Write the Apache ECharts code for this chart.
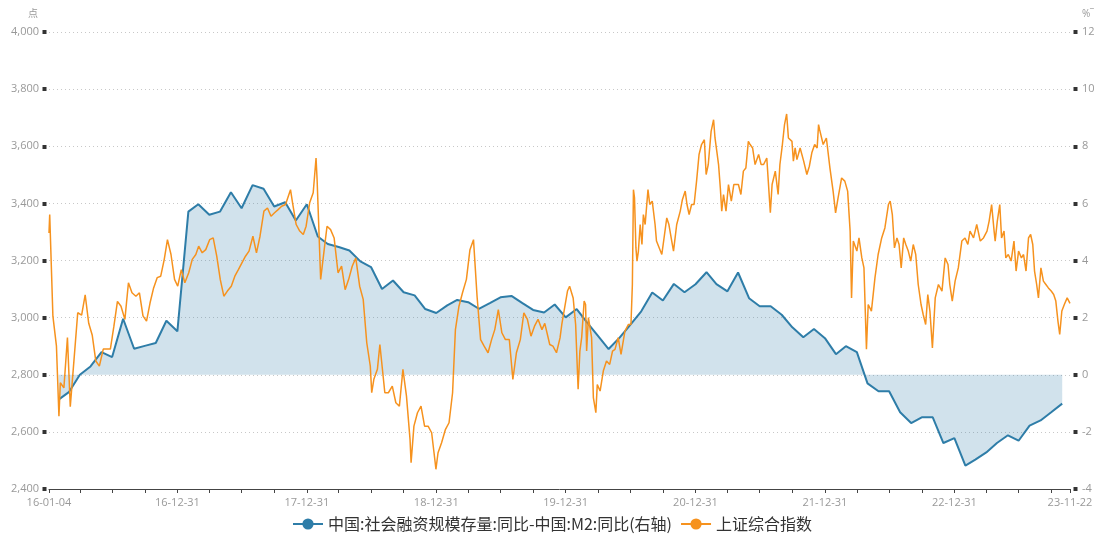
<!DOCTYPE html>
<html>
<head>
<meta charset="utf-8">
<title>社融-M2 与上证综指</title>
<script src="https://cdn.jsdelivr.net/npm/echarts@6/dist/echarts.min.js"></script>
<style>
  html, body { margin: 0; padding: 0; background: #fff; }
  #chart { width: 1112px; height: 535px; }
</style>
</head>
<body>
<div id="chart"></div>
<script>
// 中国:社会融资规模存量:同比 - 中国:M2:同比 (月末, %)
const spreadDates = [
  '2016-01-31','2016-02-29','2016-03-31','2016-04-30','2016-05-31','2016-06-30','2016-07-31','2016-08-31','2016-09-30','2016-10-31','2016-11-30','2016-12-31',
  '2017-01-31','2017-02-28','2017-03-31','2017-04-30','2017-05-31','2017-06-30','2017-07-31','2017-08-31','2017-09-30','2017-10-31','2017-11-30','2017-12-31',
  '2018-01-31','2018-02-28','2018-03-31','2018-04-30','2018-05-31','2018-06-30','2018-07-31','2018-08-31','2018-09-30','2018-10-31','2018-11-30','2018-12-31',
  '2019-01-31','2019-02-28','2019-03-31','2019-04-30','2019-05-31','2019-06-30','2019-07-31','2019-08-31','2019-09-30','2019-10-31','2019-11-30','2019-12-31',
  '2020-01-31','2020-02-29','2020-03-31','2020-04-30','2020-05-31','2020-06-30','2020-07-31','2020-08-31','2020-09-30','2020-10-31','2020-11-30','2020-12-31',
  '2021-01-31','2021-02-28','2021-03-31','2021-04-30','2021-05-31','2021-06-30','2021-07-31','2021-08-31','2021-09-30','2021-10-31','2021-11-30','2021-12-31',
  '2022-01-31','2022-02-28','2022-03-31','2022-04-30','2022-05-31','2022-06-30','2022-07-31','2022-08-31','2022-09-30','2022-10-31','2022-11-30','2022-12-31',
  '2023-01-31','2023-02-28','2023-03-31','2023-04-30','2023-05-31','2023-06-30','2023-07-31','2023-08-31','2023-09-30','2023-10-31'
];
const spreadValues = [
  -0.87, -0.61, 0.00, 0.29, 0.79, 0.62, 1.96, 0.91, 1.01, 1.11, 1.89, 1.52,
  5.71, 5.97, 5.60, 5.71, 6.39, 5.83, 6.64, 6.51, 5.89, 6.04, 5.40, 5.97,
  4.84, 4.58, 4.47, 4.35, 3.97, 3.77, 3.00, 3.30, 2.89, 2.78, 2.30, 2.16,
  2.43, 2.62, 2.54, 2.31, 2.51, 2.71, 2.76, 2.51, 2.27, 2.18, 2.46, 2.01,
  2.30, 1.83, 1.36, 0.90, 1.30, 1.75, 2.22, 2.88, 2.60, 3.18, 2.89, 3.17,
  3.59, 3.17, 2.92, 3.58, 2.68, 2.40, 2.40, 2.10, 1.66, 1.31, 1.60, 1.28,
  0.72, 1.00, 0.79, -0.30, -0.58, -0.58, -1.31, -1.69, -1.49, -1.49, -2.39, -2.22,
  -3.18, -2.97, -2.72, -2.39, -2.12, -2.31, -1.78, -1.60, -1.31, -1.01
];

// 上证综合指数 (点)
const shDates = [
  '2016-01-04','2016-01-06','2016-01-15','2016-01-25','2016-02-01','2016-02-05','2016-02-15','2016-02-25','2016-03-04','2016-03-15','2016-03-25',
  '2016-04-05','2016-04-15','2016-04-25','2016-05-05','2016-05-15','2016-05-25','2016-06-05','2016-06-15','2016-06-25',
  '2016-07-05','2016-07-15','2016-07-25','2016-08-05','2016-08-15','2016-08-25','2016-09-05','2016-09-15','2016-09-25',
  '2016-10-05','2016-10-15','2016-10-25','2016-11-04','2016-11-14','2016-11-24','2016-12-03','2016-12-13','2016-12-23',
  '2017-01-01','2017-01-11','2017-01-21','2017-02-01','2017-02-11','2017-02-21','2017-03-01','2017-03-11','2017-03-21',
  '2017-04-01','2017-04-11','2017-04-21','2017-05-01','2017-05-11','2017-05-21','2017-06-01','2017-06-11','2017-06-21',
  '2017-07-01','2017-07-11','2017-07-21','2017-08-01','2017-08-11','2017-08-21','2017-09-01','2017-09-11','2017-09-21',
  '2017-10-01','2017-10-11','2017-10-21','2017-11-01','2017-11-15','2017-11-21','2017-12-01','2017-12-11','2017-12-21',
  '2017-12-29','2018-01-08','2018-01-18','2018-01-26','2018-01-29','2018-02-08','2018-02-18','2018-02-26','2018-03-08','2018-03-18','2018-03-29',
  '2018-04-08','2018-04-18','2018-04-28','2018-05-08','2018-05-18','2018-05-29','2018-06-08','2018-06-18','2018-06-28',
  '2018-07-02','2018-07-08','2018-07-18','2018-07-25','2018-08-08','2018-08-18','2018-08-29','2018-09-08','2018-09-18','2018-09-28',
  '2018-10-08','2018-10-18','2018-10-21','2018-10-29','2018-11-08','2018-11-18','2018-11-28','2018-12-08','2018-12-18','2018-12-28','2018-12-30',
  '2019-01-05','2019-01-15','2019-01-26','2019-02-05','2019-02-15','2019-02-23','2019-03-05','2019-03-15','2019-03-26',
  '2019-04-05','2019-04-15','2019-04-25','2019-05-05','2019-05-15','2019-05-26','2019-06-05','2019-06-14','2019-06-24',
  '2019-07-04','2019-07-14','2019-07-25','2019-08-04','2019-08-14','2019-08-25','2019-09-04','2019-09-14','2019-09-24',
  '2019-10-04','2019-10-14','2019-10-25','2019-11-02','2019-11-16','2019-11-25','2019-12-05','2019-12-15','2019-12-20',
  '2020-01-05','2020-01-11','2020-01-21','2020-01-28','2020-02-04','2020-02-09','2020-02-14','2020-02-21','2020-02-25','2020-02-28',
  '2020-03-04','2020-03-13','2020-03-18','2020-03-25','2020-03-29','2020-04-06','2020-04-15','2020-04-24','2020-05-03','2020-05-11',
  '2020-05-18','2020-05-27','2020-06-04','2020-06-15','2020-06-25','2020-07-02','2020-07-06','2020-07-09','2020-07-12','2020-07-16',
  '2020-07-19','2020-07-23','2020-07-28','2020-08-02','2020-08-06','2020-08-11','2020-08-19','2020-08-24','2020-08-31','2020-09-08',
  '2020-09-12','2020-09-27','2020-10-01','2020-10-11','2020-10-17','2020-10-25','2020-10-30','2020-11-08','2020-11-18','2020-11-24',
  '2020-12-02','2020-12-07','2020-12-13','2020-12-20','2020-12-27',
  '2021-01-03','2021-01-10','2021-01-17','2021-01-25','2021-01-30','2021-02-05','2021-02-13','2021-02-20','2021-02-24','2021-03-01',
  '2021-03-06','2021-03-11','2021-03-15','2021-03-20','2021-03-27','2021-04-03','2021-04-11','2021-04-18','2021-04-23','2021-05-01',
  '2021-05-08','2021-05-15','2021-05-22','2021-05-29','2021-06-03','2021-06-10','2021-06-17','2021-06-27','2021-07-04','2021-07-11',
  '2021-07-20','2021-07-30','2021-08-04','2021-08-13','2021-08-21','2021-08-26','2021-09-02','2021-09-08','2021-09-14','2021-09-19',
  '2021-09-29','2021-10-03','2021-10-08','2021-10-13','2021-10-22','2021-11-01','2021-11-10','2021-11-17','2021-11-24','2021-12-02',
  '2021-12-09','2021-12-13','2021-12-16','2021-12-26',
  '2022-01-04','2022-01-14','2022-01-23','2022-01-30','2022-02-06','2022-02-16','2022-02-25','2022-03-05','2022-03-12','2022-03-16',
  '2022-03-21','2022-03-31','2022-04-06','2022-04-14','2022-04-20','2022-04-27','2022-05-02','2022-05-11','2022-05-21','2022-05-30',
  '2022-06-09','2022-06-18','2022-06-28','2022-07-03','2022-07-09','2022-07-15','2022-07-22','2022-07-28','2022-08-03','2022-08-10',
  '2022-08-16','2022-08-23','2022-08-30','2022-09-06','2022-09-13','2022-09-20','2022-09-28','2022-10-04','2022-10-11','2022-10-17',
  '2022-10-23','2022-10-30','2022-11-07','2022-11-16','2022-11-26','2022-12-05','2022-12-13','2022-12-18','2022-12-25',
  '2023-01-02','2023-01-11','2023-01-21','2023-01-30','2023-02-07','2023-02-13','2023-02-23','2023-03-04','2023-03-14','2023-03-23',
  '2023-04-02','2023-04-08','2023-04-15','2023-04-22','2023-04-25','2023-05-01','2023-05-08','2023-05-13','2023-05-20','2023-05-25',
  '2023-06-01','2023-06-09','2023-06-17','2023-06-23','2023-06-30','2023-07-08','2023-07-14','2023-07-21','2023-07-28','2023-08-03',
  '2023-08-09','2023-08-14','2023-08-20','2023-08-25','2023-09-01','2023-09-08','2023-09-15','2023-09-22','2023-09-30','2023-10-07',
  '2023-10-13','2023-10-19','2023-10-24','2023-10-30','2023-11-06','2023-11-14','2023-11-22'
];
const shValues = [
  3296, 3361, 3005, 2900, 2655, 2772, 2754, 2930, 2688, 2860, 3017,
  3009, 3080, 2980, 2938, 2848, 2830, 2890, 2890, 2890,
  2970, 3057, 3040, 2994, 3122, 3087, 3075, 3087, 3006,
  2988, 3052, 3104, 3140, 3145, 3204, 3273, 3221, 3134,
  3110, 3168, 3122, 3157, 3204, 3221, 3250, 3227, 3238,
  3273, 3279, 3215, 3133, 3075, 3093, 3110, 3145, 3168,
  3192, 3215, 3233, 3285, 3227, 3285, 3373, 3384, 3355,
  3367, 3378, 3390, 3396, 3448, 3400, 3326, 3303, 3291,
  3320, 3402, 3437, 3559, 3483, 3134, 3238, 3320, 3308, 3279, 3157,
  3180, 3098, 3134, 3180, 3209, 3110, 3064, 2912, 2830,
  2737, 2784, 2819, 2906, 2737, 2737, 2760, 2702, 2690, 2819,
  2725, 2574, 2492, 2620, 2667, 2690, 2620, 2620, 2597, 2492, 2469,
  2527, 2562, 2609, 2632, 2737, 2958, 3040, 3087, 3134,
  3238, 3273, 3075, 2923, 2900, 2877, 2923, 2958, 3028,
  2947, 2923, 2923, 2784, 2877, 2923, 3017, 2994, 2935,
  2970, 2994, 2958, 2980, 2906, 2900, 2877, 2929, 2976,
  3093, 3110, 3069, 2976, 2749, 2883, 2930, 3058, 3046, 2883,
  3000, 2930, 2720, 2667, 2766, 2743, 2813, 2848, 2836, 2883,
  2889, 2930, 2871, 2953, 2976, 2976, 3116, 3448, 3419, 3244,
  3198, 3233, 3326, 3256, 3361, 3326, 3448, 3396, 3408, 3326,
  3268, 3221, 3221, 3349, 3326, 3268, 3233, 3326, 3373, 3413,
  3443, 3396, 3361, 3396, 3396,
  3478, 3571, 3606, 3623, 3501, 3536, 3652, 3693, 3629, 3583,
  3536, 3454, 3373, 3431, 3373, 3466, 3408, 3466, 3472, 3466,
  3431, 3513, 3524, 3617, 3606, 3594, 3536, 3571, 3536, 3536,
  3559, 3367, 3466, 3513, 3431, 3536, 3606, 3676, 3713, 3629,
  3617, 3548, 3594, 3553, 3594, 3548, 3501, 3530, 3577, 3606,
  3594, 3676, 3658, 3606,
  3629, 3524, 3443, 3367, 3419, 3489, 3478, 3443, 3303, 3069,
  3268, 3233, 3279, 3209, 3174, 2889, 3046, 3023, 3139, 3221,
  3279, 3314, 3396, 3408, 3361, 3244, 3279, 3256, 3174, 3279,
  3256, 3233, 3198, 3256, 3221, 3116, 3046, 3011, 2976, 3081,
  3023, 2894, 3069, 3116, 3093, 3209, 3186, 3116, 3058,
  3128, 3174, 3268, 3279, 3256, 3303, 3279, 3326, 3268, 3279,
  3303, 3338, 3396, 3303, 3268, 3338, 3396, 3279, 3303, 3209,
  3221, 3198, 3268, 3163, 3233, 3209, 3221, 3163, 3279, 3291,
  3256, 3163, 3116, 3069, 3174, 3128, 3116, 3104, 3093, 3081,
  3058, 2988, 2941, 3023, 3046, 3069, 3050
];

// 横轴刻度与标签
const xStart = '2016-01-04';
const xEnd = '2023-11-22';
const xTickDates = [
  '2016-01-04','2016-03-31','2016-06-30','2016-09-30','2016-12-31',
  '2017-03-31','2017-06-30','2017-09-30','2017-12-31',
  '2018-03-31','2018-06-30','2018-09-30','2018-12-31',
  '2019-03-31','2019-06-30','2019-09-30','2019-12-31',
  '2020-03-31','2020-06-30','2020-09-30','2020-12-31',
  '2021-03-31','2021-06-30','2021-09-30','2021-12-31',
  '2022-03-31','2022-06-30','2022-09-30','2022-12-31',
  '2023-03-31','2023-06-30','2023-09-30','2023-11-22'
];
const xLabelDates = ['2016-01-04','2016-12-31','2017-12-31','2018-12-31','2019-12-31','2020-12-31','2021-12-31','2022-12-31','2023-11-22'];

const spreadName = '中国:社会融资规模存量:同比-中国:M2:同比(右轴)';
const shName = '上证综合指数';

const toTime = s => +echarts.time.parse(s);
const pad = n => (n < 10 ? '0' : '') + n;

const chart = echarts.init(document.getElementById('chart'), null, { renderer: 'canvas' });

const option = {
  animation: false,
  backgroundColor: '#fff',
  textStyle: { fontFamily: "'Open Sans', 'Noto Sans CJK SC', sans-serif" },
  grid: { left: 49, right: 42, top: 32, bottom: 46, outerBoundsMode: 'none' },
  legend: {
    left: 287,
    top: 511,
    itemWidth: 30,
    itemHeight: 14,
    itemGap: 8,
    textStyle: { fontSize: 16, color: '#333', fontFamily: "'Noto Sans CJK SC', sans-serif" },
    data: [spreadName, shName]
  },
  xAxis: {
    type: 'value',
    min: toTime(xStart),
    max: toTime(xEnd),
    axisLine: { onZero: false, lineStyle: { color: '#444', width: 1 } },
    axisTick: { show: true, length: 4, customValues: xTickDates.map(toTime), lineStyle: { color: '#444' } },
    axisLabel: {
      customValues: xLabelDates.map(toTime),
      color: '#999',
      fontSize: 11,
      margin: 8,
      formatter: v => {
        const d = new Date(v);
        return pad(d.getFullYear() % 100) + '-' + pad(d.getMonth() + 1) + '-' + pad(d.getDate());
      }
    },
    splitLine: { show: false }
  },
  yAxis: [
    {
      type: 'value',
      min: 2400,
      max: 4000,
      interval: 200,
      name: '点',
      nameGap: 13,
      nameTextStyle: { color: '#999', fontSize: 10, align: 'right', padding: [0, 11, 0, 0] },
      axisLine: { show: false },
      axisTick: { show: true, length: 7, lineStyle: { color: '#333', width: 4, type: [0, 2.5, 4, 20] } },
      axisLabel: { color: '#999', fontSize: 11, margin: 10 },
      splitLine: { show: true, lineStyle: { color: '#c8c8c8', type: [1, 3] } }
    },
    {
      type: 'value',
      min: -4,
      max: 12,
      interval: 2,
      name: '%‾',
      nameGap: 13,
      nameTextStyle: { color: '#999', fontSize: 10, align: 'left', padding: [0, 0, 0, 12] },
      axisLine: { show: false },
      axisTick: { show: true, length: 8, lineStyle: { color: '#333', width: 4, type: [0, 3.5, 4, 20] } },
      axisLabel: { color: '#999', fontSize: 11, margin: 12 },
      splitLine: { show: false }
    }
  ],
  series: [
    {
      name: spreadName,
      type: 'line',
      yAxisIndex: 1,
      symbol: 'circle',
      showSymbol: false,
      data: spreadDates.map((d, i) => [toTime(d), spreadValues[i]]),
      lineStyle: { color: '#2e7da8', width: 2 },
      itemStyle: { color: '#2e7da8' },
      areaStyle: { color: '#2e7da8', opacity: 0.22 },
      z: 2
    },
    {
      name: shName,
      type: 'line',
      yAxisIndex: 0,
      symbol: 'circle',
      showSymbol: false,
      data: shDates.map((d, i) => [toTime(d), shValues[i]]),
      lineStyle: { color: '#f6921e', width: 1.5 },
      itemStyle: { color: '#f6921e' },
      z: 3
    }
  ]
};

chart.setOption(option);
</script>
</body>
</html>
